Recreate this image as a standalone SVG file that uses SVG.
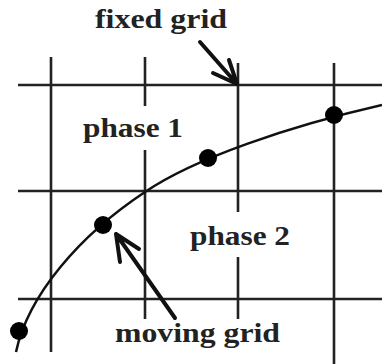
<svg xmlns="http://www.w3.org/2000/svg" width="382" height="364" viewBox="0 0 382 364">
<style>
.grid{stroke:#222;stroke-width:2.6;fill:none}
.curve{stroke:#111;stroke-width:2.5;fill:none}
.dot{fill:#000}
.arr{stroke:#111;stroke-width:4;fill:none;stroke-linecap:round;stroke-linejoin:round}
.lbl{font-family:"Liberation Serif","Times New Roman",serif;font-weight:bold;font-size:28px;fill:#222}
</style>
<rect width="382" height="364" fill="#fff"/>
<g id="fixed-grid" class="grid">
<line x1="18" y1="85" x2="382" y2="85"/>
<line x1="18" y1="191" x2="382" y2="191"/>
<line x1="18" y1="299" x2="382" y2="299"/>
<line x1="51" y1="57" x2="51" y2="352"/>
<line x1="145" y1="57" x2="145" y2="106"/>
<line x1="145" y1="150" x2="145" y2="319"/>
<line x1="238" y1="63" x2="238" y2="212"/>
<line x1="238" y1="257" x2="238" y2="319"/>
<line x1="334" y1="63" x2="334" y2="364"/>
</g>
<g id="moving-grid">
<path class="curve" d="M16,352 C28,295 80,235 145,192 C195,158 290,126 382,105"/>
<circle class="dot" cx="19" cy="331" r="9"/>
<circle class="dot" cx="103" cy="225" r="9"/>
<circle class="dot" cx="208" cy="158" r="9"/>
<circle class="dot" cx="334" cy="115" r="9"/>
</g>
<g id="connectors">
<path class="arr" d="M200,42 L237,84 M213,73 L237,84 L229,60"/>
<path class="arr" d="M175,318 L116,234 M120,262 L116,234 L139,249"/>
</g>
<g id="label-fixed"><text class="lbl" x="95" y="28" textLength="132" lengthAdjust="spacingAndGlyphs">fixed grid</text></g>
<g id="label-phase1"><text class="lbl" x="83" y="137" textLength="100" lengthAdjust="spacingAndGlyphs">phase 1</text></g>
<g id="label-phase2"><text class="lbl" x="190" y="245" textLength="100" lengthAdjust="spacingAndGlyphs">phase 2</text></g>
<g id="label-moving"><text class="lbl" x="115" y="342" textLength="165" lengthAdjust="spacingAndGlyphs">moving grid</text></g>
</svg>
